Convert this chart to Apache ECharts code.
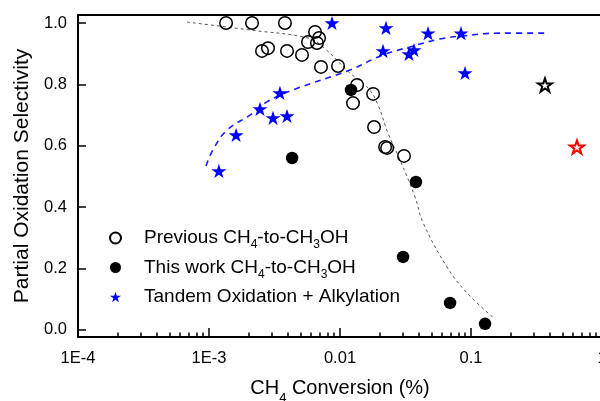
<!DOCTYPE html>
<html>
<head>
<meta charset="utf-8">
<script src="https://cdn.jsdelivr.net/npm/echarts@6/dist/echarts.min.js"></script>
<style>
  html, body { margin: 0; padding: 0; background: #fff; }
  #chart { width: 600px; height: 401px; }
</style>
</head>
<body>
<div id="chart"></div>
<script>
// 以前的 CH4-to-CH3OH 数据 (空心圆) [转化率 %, 选择性]
var prevData = [
  [0.00135, 1.0], [0.00213, 1.0], [0.0038, 1.0],
  [0.00254, 0.909], [0.00282, 0.918], [0.00394, 0.909], [0.00513, 0.896],
  [0.00645, 0.971], [0.00692, 0.951], [0.0057, 0.938], [0.00667, 0.935],
  [0.00716, 0.857], [0.00966, 0.86], [0.0135, 0.798], [0.0179, 0.769],
  [0.01257, 0.739], [0.0182, 0.661], [0.0221, 0.596], [0.0229, 0.593],
  [0.0308, 0.567]
];
// 本工作 (实心圆)
var thisWorkData = [
  [0.00431, 0.56], [0.01213, 0.782], [0.038, 0.482],
  [0.0303, 0.238], [0.0692, 0.088], [0.128, 0.02]
];
// 串联氧化 + 烷基化 (蓝色星)
var tandemData = [
  [0.00119, 0.518], [0.00161, 0.635], [0.00245, 0.72], [0.00308, 0.691],
  [0.00348, 0.772], [0.00394, 0.697], [0.00869, 1.0], [0.02245, 0.984],
  [0.0213, 0.909], [0.0336, 0.899], [0.0367, 0.912], [0.047, 0.967],
  [0.0839, 0.967], [0.09, 0.837]
];
var blackStarData = [[0.367, 0.798]];
var redStarData = [[0.644, 0.596]];
// 灰色点线 (趋势线)
var greyCurve = [
  [0.00068, 1.003], [0.00206, 0.977], [0.0057, 0.951], [0.00741, 0.922],
  [0.0119, 0.837], [0.0164, 0.788], [0.0195, 0.733], [0.0232, 0.642],
  [0.0287, 0.554], [0.0374, 0.433], [0.0431, 0.349], [0.0656, 0.205],
  [0.093, 0.121], [0.152, 0.036]
];
// 蓝色虚线 (趋势线)
var blueCurve = [
  [0.000948, 0.534], [0.00107, 0.586], [0.00137, 0.651], [0.00206, 0.7],
  [0.00277, 0.743], [0.00438, 0.782], [0.0119, 0.847], [0.0213, 0.896],
  [0.0342, 0.922], [0.0579, 0.948], [0.0869, 0.958], [0.166, 0.967],
  [0.367, 0.967]
];
var yTicks = [0, 0.2, 0.4, 0.6, 0.8, 1.0];
var xMinorTicks = [2, 3, 4, 5, 6, 7, 8, 9];
var decades = [-4, -3, -2, -1];

var minorPos = [];
for (var d = 0; d < decades.length; d++) {
  for (var k = 0; k < xMinorTicks.length; k++) {
    minorPos.push(decades[d] + Math.log10(xMinorTicks[k]));
  }
}

var starPath = 'path://M50,0 L61.8,35.3 L99,35.3 L69,57.4 L80.3,92.7 L50,71 L19.7,92.7 L31,57.4 L1,35.3 L38.2,35.3 Z';
var fontFam = 'Arial, "Liberation Sans", sans-serif';

var chart = echarts.init(document.getElementById('chart'));
var option = {
  animation: false,
  grid: {
    left: 78, right: -2, top: 15, bottom: 64,
    outerBoundsMode: 'none',
    containLabel: false,
    show: true, borderColor: '#000', borderWidth: 2, backgroundColor: 'transparent'
  },
  legend: {
    orient: 'vertical',
    left: 104, top: 221,
    itemWidth: 11, itemHeight: 11,
    itemGap: 4.5,
    data: ['Previous', 'This work', 'Tandem'],
    formatter: function (name) {
      if (name === 'Previous') return 'Previous CH{sub|4}-to-CH{sub|3}OH';
      if (name === 'This work') return 'This work CH{sub|4}-to-CH{sub|3}OH';
      return 'Tandem Oxidation + Alkylation';
    },
    textStyle: {
      fontSize: 19, fontFamily: fontFam, color: '#000', lineHeight: 24,
      padding: [0, 0, 0, 18],
      rich: {
        sub: { fontSize: 12, fontFamily: fontFam, verticalAlign: 'top', padding: [13, 0, 0, 0], lineHeight: 12 }
      }
    }
  },
  xAxis: [{
    type: 'log',
    min: 0.0001, max: 1,
    logBase: 10,
    name: 'CH{sub|4} Conversion (%)',
    nameLocation: 'middle',
    nameGap: 41,
    nameTextStyle: {
      fontSize: 20, fontFamily: fontFam, color: '#000',
      rich: { sub: { fontSize: 13, fontFamily: fontFam, verticalAlign: 'top', padding: [14, 0, 0, 0], lineHeight: 13 } }
    },
    axisLine: { onZero: false, lineStyle: { color: '#000', width: 2 } },
    axisTick: { inside: true, length: 9, lineStyle: { color: '#000', width: 1.5 } },
    splitLine: { show: false },
    minorTick: { show: false },
    axisLabel: {
      fontSize: 16.5, fontFamily: fontFam, color: '#000', margin: 13,
      hideOverlap: false,
      formatter: function (v) {
        if (v >= 0.01) return String(+v.toPrecision(1));
        return '1E' + Math.round(Math.log10(v));
      }
    }
  }, {
    type: 'value',
    min: -4, max: 0,
    position: 'bottom',
    axisLine: { show: false, onZero: false },
    axisLabel: { show: false },
    splitLine: { show: false },
    axisTick: { inside: true, length: 4.5, customValues: minorPos, lineStyle: { color: '#000', width: 1.5 } }
  }],
  yAxis: {
    type: 'value',
    min: -0.023, max: 1.026,
    name: 'Partial Oxidation Selectivity',
    nameLocation: 'middle',
    nameGap: 42,
    nameTextStyle: { fontSize: 21, fontFamily: fontFam, color: '#000' },
    axisLine: { show: true, onZero: false, lineStyle: { color: '#000', width: 2 } },
    axisTick: { inside: true, length: 8, customValues: yTicks, lineStyle: { color: '#000', width: 1.5 } },
    splitLine: { show: false },
    axisLabel: {
      fontSize: 16.5, fontFamily: fontFam, color: '#000', margin: 11,
      customValues: yTicks,
      formatter: function (v) { return v.toFixed(1); }
    }
  },
  series: [
    {
      name: 'fitGrey', type: 'line', data: greyCurve, smooth: 0.4, symbol: 'none',
      lineStyle: { color: '#555', width: 1, type: [3, 3] }, z: 1
    },
    {
      name: 'fitBlue', type: 'line', data: blueCurve, smooth: 0.4, symbol: 'none',
      lineStyle: { color: '#1a1aff', width: 1.6, type: [6, 5] }, z: 1
    },
    {
      name: 'Previous', type: 'scatter', data: prevData, symbol: 'circle', symbolSize: 12.5,
      itemStyle: { color: 'rgba(0,0,0,0)', borderColor: '#000', borderWidth: 1.5, opacity: 1 }, z: 3
    },
    {
      name: 'This work', type: 'scatter', data: thisWorkData, symbol: 'circle', symbolSize: 12.5,
      itemStyle: { color: '#000', opacity: 1 }, z: 3
    },
    {
      name: 'Tandem', type: 'scatter', data: tandemData, symbol: starPath, symbolSize: 15,
      symbolKeepAspect: true,
      itemStyle: { color: '#0000ff', opacity: 1 }, z: 3
    },
    {
      name: 'blackStar', type: 'scatter', data: blackStarData, symbol: starPath, symbolSize: 14,
      symbolKeepAspect: true,
      itemStyle: { color: '#fff', borderColor: '#000', borderWidth: 2, opacity: 1 }, z: 3
    },
    {
      name: 'redStar', type: 'scatter', data: redStarData, symbol: starPath, symbolSize: 14,
      symbolKeepAspect: true,
      itemStyle: { color: '#fff', borderColor: '#ff0000', borderWidth: 2, opacity: 1 }, z: 3
    }
  ]
};
chart.setOption(option);
</script>
</body>
</html>
